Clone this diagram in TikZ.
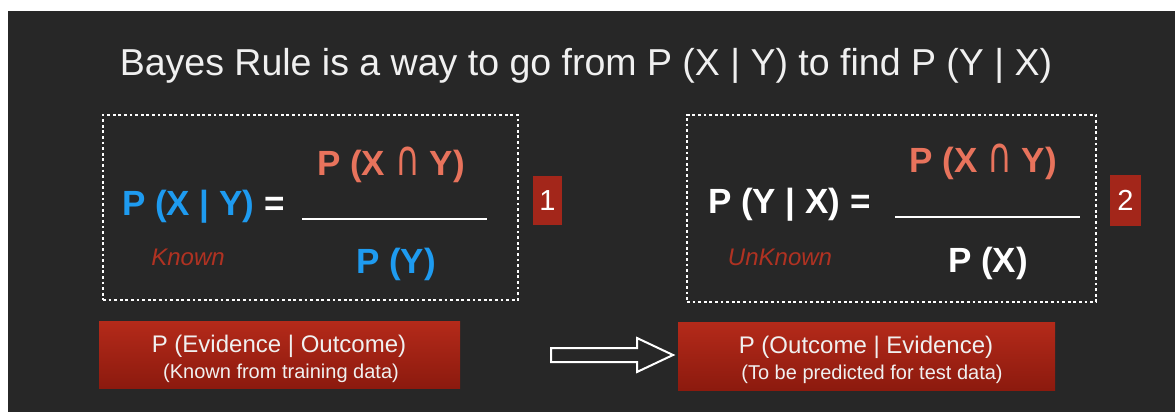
\documentclass[tikz,border=0pt]{standalone}
\usepackage{fontspec}
\usepackage{graphicx}
\setmainfont{Liberation Sans}
\newfontfamily\capsym{DejaVu Sans}
\definecolor{slate}{HTML}{272727}
\definecolor{pblue}{HTML}{1E9BF0}
\definecolor{salmon}{HTML}{E8735C}
\definecolor{tagred}{HTML}{B03222}
\definecolor{badgered}{HTML}{A3261A}
\definecolor{boxtop}{HTML}{B42A1A}
\definecolor{boxbottom}{HTML}{8C1A0E}
\definecolor{soft}{HTML}{F0F0F0}
\newcommand{\capsign}{{\capsym\mdseries\fontsize{34}{34}\selectfont\scalebox{1}[1.45]{∩}}}
\tikzset{
  dotbox/.style={draw=white, line width=2.8pt, dash pattern=on 2.8pt off 2.8pt, inner sep=0pt},
  formula/.style={font=\fontsize{35}{35}\selectfont\bfseries, inner sep=0pt},
  tag/.style={font=\fontsize{24}{24}\selectfont\itshape, text=tagred, inner sep=0pt},
  badge/.style={fill=badgered, text=white, font=\fontsize{29}{29}\selectfont, inner sep=0pt},
  redbox/.style={top color=boxtop, bottom color=boxbottom, draw=none, inner sep=0pt},
  boxline/.style={text=soft, inner sep=0pt},
  fracbar/.style={draw=white, line width=2pt},
  hollowarrow/.style={draw=white, line width=2pt, fill=slate, line join=miter}
}
\begin{document}
\begin{tikzpicture}[x=1pt, y=-1pt]
\useasboundingbox (0,0) rectangle (1175,412);
\fill[white] (0,0) rectangle (1175,412);
\fill[slate] (8,11) rectangle (1175,412);

% heading
\node[anchor=base, text=soft, inner sep=0pt, font=\fontsize{37.5}{37.5}\selectfont] (title) at (586,76)
  {Bayes Rule is a way to go from P (X | Y) to find P (Y | X)};

% left formula: the known likelihood
\node[dotbox, minimum width=415pt, minimum height=185pt] (boxL) at (310.5,207.5) {};
\node[formula, anchor=base west] (lhsL) at (122,215) {\textcolor{pblue}{P (X | Y)} \textcolor{white}{=}};
\node[formula, anchor=base, text=salmon] (numL) at (391,175) {P (X \capsign\ Y)};
\node[formula, anchor=base, text=pblue] (denL) at (396,273) {P (Y)};
\draw[fracbar] (302,219) -- (487,219);
\node[tag, anchor=base] (knownL) at (188,265) {Known};
\node[badge, minimum width=29pt, minimum height=49pt] (badgeL) at (547.5,200.5) {1};

% right formula: the unknown posterior
\node[dotbox, minimum width=409pt, minimum height=187pt] (boxR) at (891.5,208.5) {};
\node[formula, anchor=base west, text=white] (lhsR) at (708,213) {P (Y | X) =};
\node[formula, anchor=base, text=salmon] (numR) at (983,172) {P (X \capsign\ Y)};
\node[formula, anchor=base, text=white] (denR) at (988,272) {P (X)};
\draw[fracbar] (895,217) -- (1080,217);
\node[tag, anchor=base] (knownR) at (780,265) {UnKnown};
\node[badge, minimum width=31pt, minimum height=51pt] (badgeR) at (1125.5,200.5) {2};

% bottom captions
\node[redbox, minimum width=361pt, minimum height=67pt] (evL) at (279.5,354.5) {};
\node[boxline, anchor=base, font=\fontsize{24}{24}\selectfont] (evL1) at (279,352) {P (Evidence | Outcome)};
\node[boxline, anchor=base, font=\fontsize{20}{20}\selectfont] (evL2) at (281,378) {(Known from training data)};

\node[redbox, minimum width=377pt, minimum height=68pt] (evR) at (866.5,356) {};
\node[boxline, anchor=base, font=\fontsize{24}{24}\selectfont] (evR1) at (866,353) {P (Outcome | Evidence)};
\node[boxline, anchor=base, font=\fontsize{20}{20}\selectfont] (evR2) at (872,379) {(To be predicted for test data)};

% hollow block arrow between the captions
\draw[hollowarrow] (551,348) -- (637,348) -- (637,338) -- (673,355) -- (637,372) -- (637,362) -- (551,362) -- cycle;
\end{tikzpicture}
\end{document}
